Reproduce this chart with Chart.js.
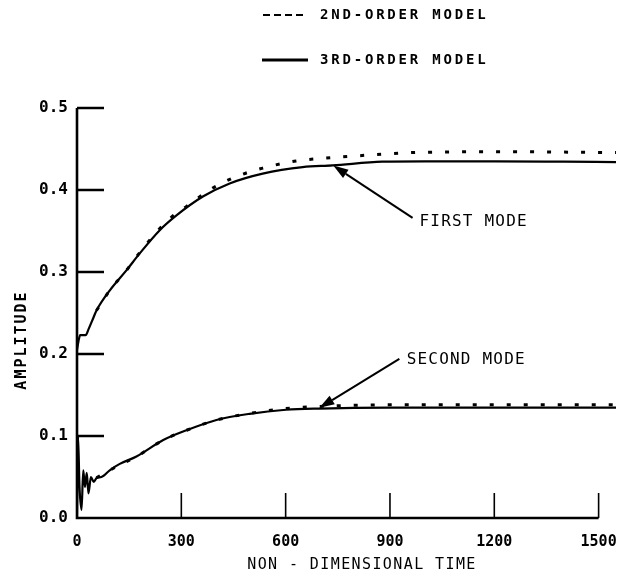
<!DOCTYPE html>
<html>
<head>
<meta charset="utf-8">
<script src="https://cdn.jsdelivr.net/npm/chart.js@4.4.1/dist/chart.umd.min.js"></script>
<style>
  html, body { margin: 0; padding: 0; background: #fff; }
  #wrap { position: relative; width: 641px; height: 584px; }
</style>
</head>
<body>
<div id="wrap"><canvas id="chart"></canvas></div>
<script>
/* ================= DATA ================= */
// first mode, 3rd-order model
const firstTime3 = [0, 4, 9, 25, 33, 44, 56, 95, 142, 181, 238, 286, 362, 439, 534, 649, 735, 878, 1000, 1200, 1400, 1550];
const firstAmp3  = [0.205, 0.215, 0.223, 0.223, 0.230, 0.241, 0.253, 0.278, 0.302, 0.323, 0.351, 0.369, 0.392, 0.408, 0.420, 0.428, 0.430, 0.4345, 0.435, 0.435, 0.4345, 0.434];

// first mode, 2nd-order model
const firstTime2 = [56, 95, 142, 181, 238, 286, 315, 381, 448, 534, 630, 716, 800, 955, 1100, 1213, 1400, 1550];
const firstAmp2  = [0.253, 0.278, 0.302, 0.324, 0.353, 0.372, 0.380, 0.400, 0.4146, 0.4267, 0.4354, 0.4390, 0.4415, 0.4455, 0.4465, 0.4467, 0.4462, 0.4456];

// second mode, 3rd-order model
const secondTime3 = [0, 3, 7, 13, 18, 23, 28, 33, 40, 48, 57, 70, 95, 123, 171, 248, 315, 401, 496, 601, 697, 900, 1200, 1550];
const secondAmp3  = [0.0, 0.10, 0.04, 0.01, 0.058, 0.038, 0.055, 0.030, 0.050, 0.044, 0.049, 0.050, 0.0585, 0.066, 0.075, 0.095, 0.107, 0.1195, 0.127, 0.132, 0.1335, 0.1345, 0.1345, 0.1345];

// second mode, 2nd-order model
const secondTime2 = [56, 95, 171, 248, 315, 401, 496, 601, 697, 900, 1200, 1550];
const secondAmp2  = [0.049, 0.0585, 0.075, 0.095, 0.107, 0.1195, 0.1275, 0.1335, 0.136, 0.138, 0.138, 0.138];

const xTickValues = [0, 300, 600, 900, 1200, 1500];
const yTickValues = [0.0, 0.1, 0.2, 0.3, 0.4, 0.5];

const modelLabels = ["2ND-ORDER MODEL", "3RD-ORDER MODEL"];
const axisTitles = { x: "NON - DIMENSIONAL TIME", y: "AMPLITUDE" };

// arrow annotations, in data units: [time, amplitude]
const noteText = ["FIRST MODE", "SECOND MODE"];
const noteTip  = [[737, 0.4298], [697, 0.1343]];
const noteTail = [[965, 0.366], [927, 0.194]];
const noteAt   = [[985, 0.361], [948, 0.193]];

/* ================= HELPERS ================= */
function pts(ts, vs) {
    return ts.map((t, i) => ({ x: t, y: vs[i] }));
}

const DOTS = [4, 13];

/* ================= DECORATION PLUGIN ================= */
const paperPlugin = {
    id: "paper",
    afterDraw(chart) {
        const ctx = chart.ctx;
        const xs = chart.scales.x;
        const ys = chart.scales.y;
        const left = chart.chartArea.left;
        const top = chart.chartArea.top;
        const bottom = chart.chartArea.bottom;

        ctx.save();
        ctx.strokeStyle = "#000";
        ctx.fillStyle = "#000";
        ctx.lineCap = "butt";

        // axis lines
        ctx.lineWidth = 2.6;
        ctx.beginPath();
        ctx.moveTo(left, top);
        ctx.lineTo(left, bottom);
        ctx.lineTo(xs.getPixelForValue(1500), bottom);
        ctx.stroke();

        // inward ticks
        yTickValues.forEach(v => {
            if (v === 0) return;
            const py = ys.getPixelForValue(v);
            ctx.lineWidth = 2.5;
            ctx.beginPath();
            ctx.moveTo(left, py);
            ctx.lineTo(left + 27, py);
            ctx.stroke();
        });
        xTickValues.forEach(v => {
            if (v === 0) return;
            const px = xs.getPixelForValue(v);
            ctx.lineWidth = 1.6;
            ctx.beginPath();
            ctx.moveTo(px, bottom);
            ctx.lineTo(px, bottom - 25);
            ctx.stroke();
        });

        // legend (two rows above the plot)
        const rows = [
            { y: 15, dash: [7, 4], x0: 263, x1: 305, w: 2 },
            { y: 60, dash: [], x0: 262, x1: 308, w: 3 }
        ];
        ctx.font = "bold 14px 'DejaVu Sans Mono'";
        ctx.letterSpacing = "2.8px";
        ctx.textBaseline = "middle";
        ctx.textAlign = "left";
        rows.forEach((r, i) => {
            ctx.lineWidth = r.w;
            ctx.setLineDash(r.dash);
            ctx.beginPath();
            ctx.moveTo(r.x0, r.y);
            ctx.lineTo(r.x1, r.y);
            ctx.stroke();
            ctx.setLineDash([]);
            ctx.fillText(modelLabels[i], 320, r.y);
        });

        // arrow annotations
        ctx.font = "16px 'DejaVu Sans Mono'";
        ctx.letterSpacing = "1.2px";
        noteText.forEach((txt, i) => {
            const tx = xs.getPixelForValue(noteTip[i][0]);
            const ty = ys.getPixelForValue(noteTip[i][1]);
            const sx = xs.getPixelForValue(noteTail[i][0]);
            const sy = ys.getPixelForValue(noteTail[i][1]);
            const ang = Math.atan2(ty - sy, tx - sx);
            const hl = 15, hw = 5;
            const bx = tx - hl * Math.cos(ang);
            const by = ty - hl * Math.sin(ang);
            ctx.lineWidth = 2;
            ctx.beginPath();
            ctx.moveTo(sx, sy);
            ctx.lineTo(bx, by);
            ctx.stroke();
            ctx.beginPath();
            ctx.moveTo(tx, ty);
            ctx.lineTo(bx + hw * Math.sin(ang), by - hw * Math.cos(ang));
            ctx.lineTo(bx - hw * Math.sin(ang), by + hw * Math.cos(ang));
            ctx.closePath();
            ctx.fill();
            ctx.fillText(txt, xs.getPixelForValue(noteAt[i][0]), ys.getPixelForValue(noteAt[i][1]));
        });

        // axis titles
        ctx.font = "15px 'DejaVu Sans Mono'";
        ctx.letterSpacing = "1.4px";
        ctx.textAlign = "center";
        ctx.fillText(axisTitles.x, 362, 565);

        ctx.font = "bold 15px 'DejaVu Sans Mono'";
        ctx.letterSpacing = "2px";
        ctx.translate(22, 340);
        ctx.rotate(-Math.PI / 2);
        ctx.fillText(axisTitles.y, 0, 0);

        ctx.restore();
    }
};

/* ================= CHART ================= */
const ctx = document.getElementById("chart").getContext("2d");

new Chart(ctx, {
    type: "line",
    data: {
        datasets: [
            {
                label: modelLabels[0],
                data: pts(firstTime2, firstAmp2),
                borderColor: "#000",
                borderWidth: 3,
                borderDash: DOTS,
                pointRadius: 0,
                cubicInterpolationMode: "monotone"
            },
            {
                label: modelLabels[1],
                data: pts(firstTime3, firstAmp3),
                borderColor: "#000",
                borderWidth: 2.2,
                pointRadius: 0,
                cubicInterpolationMode: "monotone"
            },
            {
                label: modelLabels[0],
                data: pts(secondTime2, secondAmp2),
                borderColor: "#000",
                borderWidth: 3,
                borderDash: DOTS,
                pointRadius: 0,
                cubicInterpolationMode: "monotone"
            },
            {
                label: modelLabels[1],
                data: pts(secondTime3, secondAmp3),
                borderColor: "#000",
                borderWidth: 2.2,
                pointRadius: 0,
                cubicInterpolationMode: "monotone"
            }
        ]
    },
    options: {
        responsive: true,
        maintainAspectRatio: false,
        animation: false,
        events: [],
        layout: { padding: { top: 108, right: 25, left: 0, bottom: 0 } },
        plugins: {
            legend: { display: false },
            tooltip: { enabled: false },
            title: { display: false }
        },
        scales: {
            x: {
                type: "linear",
                min: 0,
                max: 1550,
                afterBuildTicks: s => { s.ticks = xTickValues.map(v => ({ value: v })); },
                afterFit: s => { s.height = 66; },
                grid: { display: false, drawTicks: false },
                border: { display: false },
                ticks: {
                    color: "#000",
                    padding: 15,
                    maxRotation: 0,
                    callback: v => String(v),
                    font: { family: "'DejaVu Sans Mono'", size: 15, weight: "bold" }
                }
            },
            y: {
                type: "linear",
                min: 0,
                max: 0.5,
                afterBuildTicks: s => { s.ticks = yTickValues.map(v => ({ value: v })); },
                afterFit: s => { s.width = 77; },
                grid: { display: false, drawTicks: false },
                border: { display: false },
                ticks: {
                    color: "#000",
                    padding: 9,
                    callback: v => Number(v).toFixed(1),
                    font: { family: "'DejaVu Sans Mono'", size: 16, weight: "bold" }
                }
            }
        }
    },
    plugins: [paperPlugin]
});
</script>
</body>
</html>
